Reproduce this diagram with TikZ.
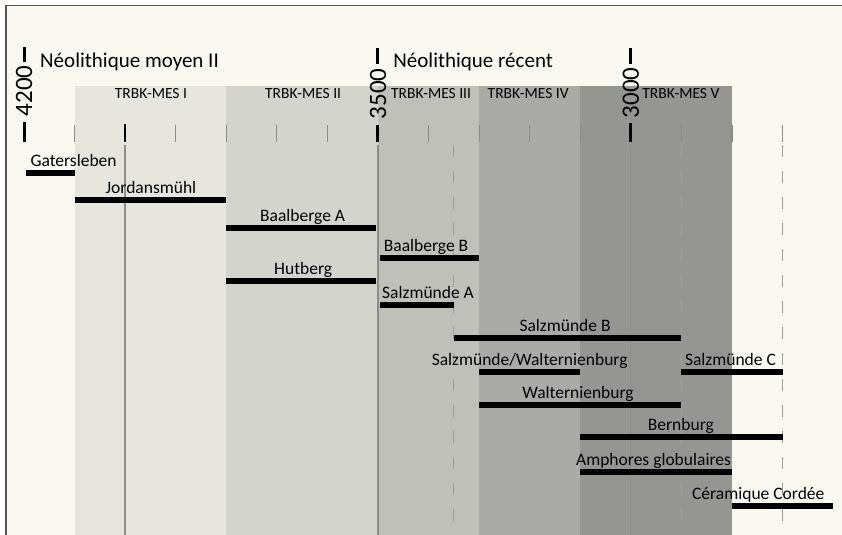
\documentclass[tikz,border=0pt]{standalone}
\usepackage{fontspec}
\setmainfont{Carlito}
\usepackage{tikz}
\usetikzlibrary{positioning}
\definecolor{tlcream}{RGB}{249, 249, 241}
\definecolor{tlframe}{RGB}{85, 85, 85}
\definecolor{tlmesI}{RGB}{230, 230, 223}
\definecolor{tlmesII}{RGB}{211, 212, 206}
\definecolor{tlmesIII}{RGB}{191, 192, 186}
\definecolor{tlmesIV}{RGB}{170, 171, 166}
\definecolor{tlmesV}{RGB}{149, 150, 145}
\definecolor{tlgrid}{RGB}{140, 140, 136}

\begin{document}
\begin{tikzpicture}[x=50.57pt, y=-1pt,
  culture/.style={font=\fontsize{17.5}{20}\selectfont, anchor=base, inner sep=0pt},
  phase/.style={font=\fontsize{15.5}{18}\selectfont, anchor=base, inner sep=0pt},
  period/.style={font=\fontsize{21}{24}\selectfont, anchor=base west, inner sep=0pt},
  yearlbl/.style={font=\fontsize{25}{28}\selectfont, rotate=90, inner sep=0pt},
  bar/.style={line width=5.5pt},
  minortick/.style={line width=1.2pt, tlgrid},
  majortick/.style={line width=3pt},
  solidgrid/.style={line width=1.3pt, tlgrid},
  dashgrid/.style={line width=1.3pt, tlgrid!85, dash pattern=on 12pt off 14pt}]
% canvas, 1 unit = 100 years from 4200
\useasboundingbox (-0.4746,0) rectangle (16.176,535);
\fill[white] (-0.4746,0) rectangle (16.176,535);
\fill[tlcream] (-0.356,5.5) rectangle (16.176,535);

% TRBK-MES phases
\fill[tlmesI] (1,86) rectangle (4,535);
\fill[tlmesII] (4,86) rectangle (7,535);
\fill[tlmesIII] (7,86) rectangle (9,535);
\fill[tlmesIV] (9,86) rectangle (11,535);
\fill[tlmesV] (11,86) rectangle (14,535);
\node[phase] (mesI) at (2.51,99) {TRBK-MES I};
\node[phase] (mesII) at (5.52,99) {TRBK-MES II};
\node[phase] (mesIII) at (8.05,99) {TRBK-MES III};
\node[phase] (mesIV) at (9.97,99) {TRBK-MES IV};
\node[phase] (mesV) at (12.99,99) {TRBK-MES V};

% frame
\draw[tlframe, line width=1.5pt] (-0.356,535) -- (-0.356,5.5) -- (16.176,5.5);

% periods
\node[period] (moyen) at (0.316,68) {Néolithique moyen II};
\node[period] (recent) at (7.3,68) {Néolithique récent};

% years
\node[yearlbl] (y4200) at (0,91) {4200};
\draw[majortick] (0,47) -- (0,62);
\draw[majortick] (0,122) -- (0,142);
\node[yearlbl] (y3500) at (7,94) {3500};
\draw[majortick] (7,48) -- (7,64);
\draw[majortick] (7,125) -- (7,142);
\node[yearlbl] (y3000) at (12,93) {3000};
\draw[majortick] (12,48) -- (12,64);
\draw[majortick] (12,123) -- (12,142);

% scale ticks
\foreach \t in {1,3,4,5,6,8,9,10,11,13,14,15}
  \draw[minortick] (\t,125) -- (\t,142);
\draw[line width=2pt] (2,124) -- (2,142);

% guide lines
\draw[solidgrid] (2,145) -- (2,535);
\draw[solidgrid] (7,145) -- (7,535);
\draw[solidgrid] (12,145) -- (12,535);
\draw[dashgrid] (8.5,145) -- (8.5,535);
\draw[dashgrid] (13,145) -- (13,535);
\draw[dashgrid] (15,145) -- (15,535);

% cultures
\draw[bar] (0.04,173) -- (1,173);
\node[culture] (gat) at (0.98,167) {Gatersleben};
\draw[bar] (1,200) -- (4,200);
\node[culture] (jor) at (2.51,194) {Jordansmühl};
\draw[bar] (4,228) -- (6.96,228);
\node[culture] (baaA) at (5.51,222) {Baalberge A};
\draw[bar] (7.04,258) -- (9,258);
\node[culture] (baaB) at (7.95,252) {Baalberge B};
\draw[bar] (4,281) -- (6.96,281);
\node[culture] (hut) at (5.52,275) {Hutberg};
\draw[bar] (7.04,305) -- (8.5,305);
\node[culture] (salA) at (7.99,299) {Salzmünde A};
\draw[bar] (8.5,338) -- (13,338);
\node[culture] (salB) at (10.7,332) {Salzmünde B};
\draw[bar] (9,372) -- (11,372);
\node[culture] (salW) at (10,366) {Salzmünde/Walternienburg};
\draw[bar] (13,372) -- (15,372);
\node[culture] (salC) at (13.97,366) {Salzmünde C};
\draw[bar] (9,405) -- (13,405);
\node[culture] (wal) at (10.955,399) {Walternienburg};
\draw[bar] (11,437) -- (15,437);
\node[culture] (ber) at (12.99,431) {Bernburg};
\draw[bar] (11,472) -- (14,472);
\node[culture] (amp) at (12.45,466) {Amphores globulaires};
\draw[bar] (14,506) -- (16,506);
\node[culture] (cer) at (14.52,500) {Céramique Cordée};
\end{tikzpicture}
\end{document}
